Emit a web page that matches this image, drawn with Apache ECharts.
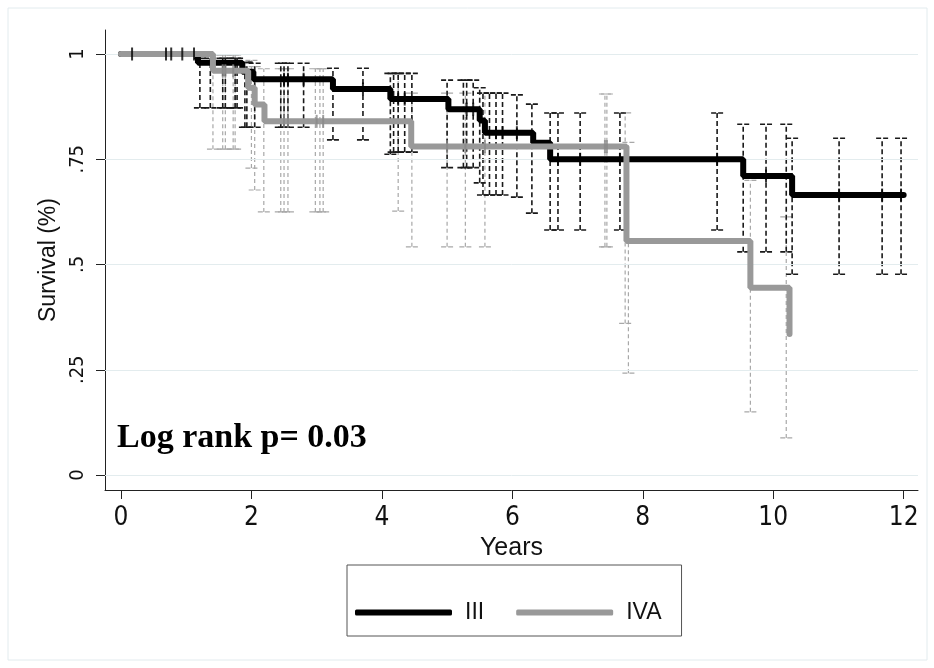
<!DOCTYPE html>
<html>
<head>
<meta charset="utf-8">
<script src="https://cdn.jsdelivr.net/npm/echarts@6/dist/echarts.min.js"></script>
<style>
  html, body { margin: 0; padding: 0; background: #fff; }
  #container { width: 934px; height: 668px; }
</style>
</head>
<body>
<div id="container"></div>
<script>
// axis ticks
var xTicks = [0, 2, 4, 6, 8, 10, 12];
var yTicks = [0, 0.25, 0.5, 0.75, 1];

// Kaplan-Meier steps [years, survival]
var kmIII = [[0, 1], [1.18, 0.979], [1.86, 0.958], [2.03, 0.94], [3.25, 0.917], [4.13, 0.893],
    [5.02, 0.869], [5.5, 0.842], [5.58, 0.813], [6.32, 0.789], [6.58, 0.75], [9.54, 0.71],
    [10.29, 0.665], [12.0, 0.665]];
var kmIVA = [[0, 1], [1.41, 0.96], [1.95, 0.92], [2.05, 0.88], [2.2, 0.84], [4.45, 0.78],
    [7.75, 0.556], [9.65, 0.445], [10.25, 0.335]];

// censored observations [years, survival]
var censIII = [[0.17, 1], [0.69, 1], [0.77, 1], [0.94, 1], [1.12, 1], [2.5, 0.94], [2.56, 0.94],
    [2.8, 0.94], [3.71, 0.917], [4.25, 0.893], [4.35, 0.893], [5.3, 0.869], [5.4, 0.869],
    [5.75, 0.813], [5.85, 0.813], [6.07, 0.813], [6.7, 0.75], [7.04, 0.75], [7.65, 0.75],
    [9.14, 0.75], [9.89, 0.71], [11.01, 0.665], [11.67, 0.665], [11.96, 0.665]];
var censIVA = [[1.56, 0.96], [1.6, 0.96], [1.72, 0.96], [2.5, 0.84], [2.56, 0.84], [3.0, 0.84],
    [3.1, 0.84], [5.0, 0.78], [5.28, 0.78], [5.58, 0.78], [7.42, 0.78], [7.45, 0.78]];

// confidence intervals [years, lower, upper]
var ciIII = [[1.21, 0.872, 0.99], [1.37, 0.872, 0.99], [1.56, 0.872, 0.99], [1.6, 0.872, 0.99],
    [1.75, 0.872, 0.99], [1.78, 0.872, 0.99], [1.9, 0.826, 0.98], [1.93, 0.826, 0.98],
    [2.05, 0.826, 0.978], [2.45, 0.826, 0.978], [2.5, 0.826, 0.978], [2.56, 0.826, 0.978],
    [2.8, 0.826, 0.978], [3.25, 0.796, 0.966], [3.71, 0.796, 0.966], [4.13, 0.762, 0.954],
    [4.18, 0.767, 0.954], [4.25, 0.767, 0.954], [4.35, 0.767, 0.954], [4.46, 0.767, 0.954],
    [5.0, 0.73, 0.938], [5.25, 0.73, 0.938], [5.3, 0.73, 0.938], [5.4, 0.73, 0.938],
    [5.5, 0.694, 0.92], [5.55, 0.665, 0.907], [5.65, 0.665, 0.907], [5.75, 0.665, 0.907],
    [5.85, 0.665, 0.907], [6.07, 0.66, 0.903], [6.3, 0.622, 0.881], [6.58, 0.582, 0.86],
    [6.7, 0.582, 0.86], [7.04, 0.582, 0.86], [7.65, 0.582, 0.86], [9.14, 0.582, 0.86],
    [9.54, 0.53, 0.833], [9.89, 0.53, 0.833], [10.2, 0.53, 0.833], [10.29, 0.477, 0.8],
    [11.01, 0.477, 0.8], [11.67, 0.477, 0.8], [11.96, 0.477, 0.8]];
var ciIVA = [[1.41, 0.774, 0.998], [1.56, 0.774, 0.998], [1.6, 0.774, 0.998], [1.72, 0.774, 0.998],
    [1.75, 0.774, 0.998], [2.0, 0.729, 0.985], [2.05, 0.677, 0.97], [2.19, 0.625, 0.965],
    [2.45, 0.625, 0.965], [2.5, 0.625, 0.965], [2.56, 0.625, 0.965], [2.98, 0.625, 0.965],
    [3.05, 0.625, 0.965], [3.1, 0.625, 0.965], [4.25, 0.627, 0.954], [4.46, 0.542, 0.907],
    [5.0, 0.542, 0.907], [5.28, 0.542, 0.907], [5.58, 0.542, 0.907], [7.42, 0.542, 0.905],
    [7.45, 0.542, 0.905], [7.73, 0.36, 0.86], [7.78, 0.242, 0.79], [9.65, 0.15, 0.70],
    [10.2, 0.088, 0.613]];

var tickFont = "'Liberation Sans Narrow', 'DejaVu Sans Condensed', 'Liberation Sans', sans-serif";
var textFont = "'Liberation Sans', Arial, sans-serif";

function ciRenderer(color, width, dash) {
    return function (params, api) {
        var t = api.value(0);
        var lo = api.coord([t, api.value(1)]);
        var hi = api.coord([t, api.value(2)]);
        var w = 6;
        var style = { stroke: color, lineWidth: width, lineDash: dash };
        return {
            type: 'group',
            children: [
                { type: 'line', shape: { x1: lo[0], y1: lo[1], x2: hi[0], y2: hi[1] }, style: style },
                { type: 'line', shape: { x1: lo[0] - w, y1: lo[1], x2: lo[0] + w, y2: lo[1] }, style: { stroke: color, lineWidth: width, lineDash: [5, 2] } },
                { type: 'line', shape: { x1: hi[0] - w, y1: hi[1], x2: hi[0] + w, y2: hi[1] }, style: { stroke: color, lineWidth: width, lineDash: [5, 2] } }
            ]
        };
    };
}

var myChart = echarts.init(document.getElementById('container'));
var option = {
    backgroundColor: '#fff',
    animation: false,
    grid: { left: 105, top: 30, right: 16, bottom: 178 },
    xAxis: {
        type: 'value',
        min: -0.245,
        max: 12.22,
        name: 'Years',
        nameLocation: 'middle',
        nameGap: 33,
        nameTextStyle: { color: '#111', fontSize: 25, fontFamily: textFont },
        axisLine: { onZero: false, lineStyle: { color: '#222', width: 1 } },
        axisTick: { customValues: xTicks, length: 9, lineStyle: { color: '#222' } },
        axisLabel: { customValues: xTicks, color: '#111', fontSize: 26, fontFamily: tickFont, margin: 15 },
        splitLine: { show: false }
    },
    yAxis: {
        type: 'value',
        min: -0.0356,
        max: 1.057,
        name: 'Survival (%)',
        nameLocation: 'middle',
        nameGap: 40,
        nameTextStyle: { color: '#111', fontSize: 23, fontFamily: textFont },
        axisLine: { onZero: false, lineStyle: { color: '#222', width: 1 } },
        axisTick: { customValues: yTicks, length: 9, lineStyle: { color: '#222' } },
        axisLabel: {
            customValues: yTicks,
            rotate: 90,
            color: '#111',
            fontSize: 20,
            fontFamily: tickFont,
            margin: 17,
            formatter: function (v) { return v === 1 || v === 0 ? String(v) : String(v).replace(/^0/, ''); }
        },
        splitLine: { show: false }
    },
    legend: {
        data: ['III', 'IVA'],
        left: 347,
        top: 565,
        orient: 'horizontal',
        borderColor: '#555',
        borderWidth: 1,
        padding: [36, 20, 12, 8],
        itemWidth: 97,
        itemHeight: 6,
        itemGap: 32,
        icon: 'roundRect',
        textStyle: { color: '#111', fontSize: 23, fontFamily: textFont, padding: [0, 0, 0, 8] }
    },
    graphic: [
        {
            type: 'rect',
            shape: { x: 8, y: 8, width: 919, height: 652 },
            style: { fill: null, stroke: '#e2ebee', lineWidth: 1 },
            silent: true
        },
        {
            type: 'text',
            left: 117,
            top: 421,
            style: {
                text: 'Log rank p= 0.03',
                fill: '#000',
                font: "bold 34px 'Liberation Serif', 'DejaVu Serif', serif"
            },
            z: 100
        }
    ],
    series: [
        {
            name: 'grid',
            type: 'line',
            data: [],
            silent: true,
            z: 0,
            markLine: {
                silent: true,
                symbol: ['none', 'none'],
                label: { show: false },
                lineStyle: { color: '#e3ecee', width: 1, type: 'solid' },
                data: yTicks.map(function (v) { return { yAxis: v }; })
            }
        },
        {
            name: 'ci IVA',
            type: 'custom',
            renderItem: ciRenderer('#a8a8a8', 1.2, [4, 3]),
            data: ciIVA,
            z: 2
        },
        {
            name: 'ci III',
            type: 'custom',
            renderItem: ciRenderer('#1a1a1a', 1.6, [5, 3]),
            data: ciIII,
            z: 3
        },
        {
            name: 'III',
            type: 'line',
            step: 'end',
            data: kmIII,
            showSymbol: false,
            itemStyle: { color: '#000' },
            lineStyle: { color: '#000', width: 6, cap: 'round' },
            z: 5
        },
        {
            name: 'IVA',
            type: 'line',
            step: 'end',
            data: kmIVA,
            showSymbol: false,
            itemStyle: { color: '#999' },
            lineStyle: { color: '#999', width: 6, cap: 'round' },
            z: 6
        },
        {
            name: 'cens III',
            type: 'scatter',
            data: censIII,
            symbol: 'rect',
            symbolSize: [2, 13],
            itemStyle: { color: '#000' },
            z: 7
        },
        {
            name: 'cens IVA',
            type: 'scatter',
            data: censIVA,
            symbol: 'rect',
            symbolSize: [2, 13],
            itemStyle: { color: '#888' },
            z: 7
        }
    ]
};
myChart.setOption(option);
</script>
</body>
</html>
